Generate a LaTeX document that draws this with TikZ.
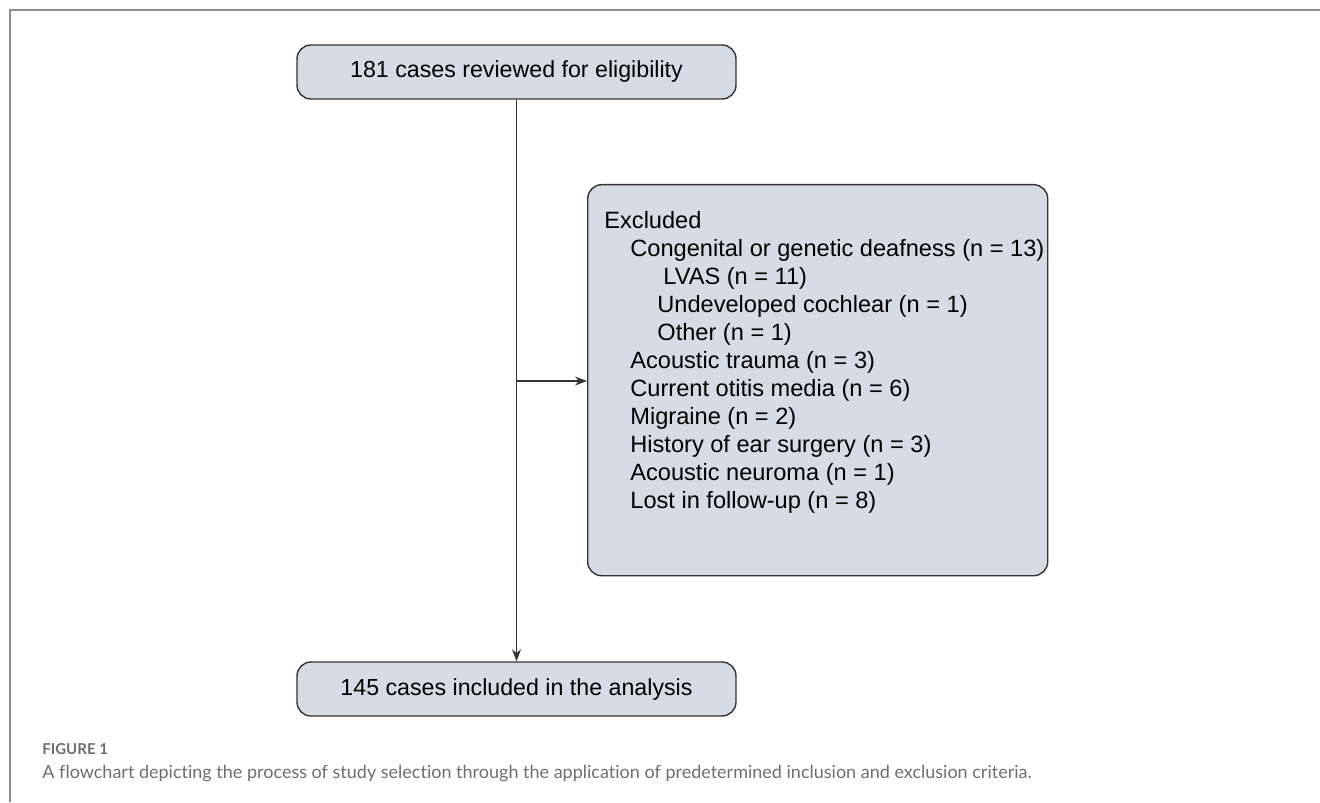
\documentclass[tikz,border=0pt]{standalone}
\usepackage{fontspec}
\setmainfont{Liberation Sans}
\newfontfamily\captionfont[Ligatures=NoCommon]{Lato}
\usetikzlibrary{arrows.meta}
\definecolor{boxfill}{RGB}{214,220,229}
\definecolor{boxline}{RGB}{51,51,51}
\definecolor{framegray}{RGB}{140,140,140}
\definecolor{captiongray}{RGB}{110,110,110}

\begin{document}
\begin{tikzpicture}[x=0.5pt,y=-0.5pt,
    stage/.style={draw=boxline,fill=boxfill,line width=0.7pt,rounded corners=7pt,
      minimum width=219.5pt,minimum height=27pt,inner sep=0pt,font=\fontsize{11.6}{14}\selectfont},
    flow/.style={line width=0.7pt,draw=boxline,-{Stealth[length=6pt,width=4.5pt]}}]
    \useasboundingbox (0,0) rectangle (1320,802);
    \draw[framegray,line width=1.2pt] (10,802) -- (10,10) -- (1320,10);

    \node[stage] (reviewed) at (516.5,72) {181 cases reviewed for eligibility};
    \node[stage] (included) at (516.5,689) {145 cases included in the analysis};
    \node[stage,anchor=north west,minimum width=230pt,minimum height=195.5pt] (excluded) at (587,184) {};
    \node[anchor=north west,align=left,inner sep=0pt,font=\fontsize{11.8}{14}\selectfont] (reasons) at (604,211)
        {Excluded\\
         \hspace*{13pt}Congenital or genetic deafness (n = 13)\\
         \hspace*{29.5pt}LVAS (n = 11)\\
         \hspace*{26.5pt}Undeveloped cochlear (n = 1)\\
         \hspace*{26.5pt}Other (n = 1)\\
         \hspace*{13pt}Acoustic trauma (n = 3)\\
         \hspace*{13pt}Current otitis media (n = 6)\\
         \hspace*{13pt}Migraine (n = 2)\\
         \hspace*{13pt}History of ear surgery (n = 3)\\
         \hspace*{13pt}Acoustic neuroma (n = 1)\\
         \hspace*{13pt}Lost in follow-up (n = 8)};

    \coordinate (split) at (516.5,381);
    \draw[flow] (reviewed) -- (included);
    \draw[flow] (split) -- (split -| excluded.west);

    \node[anchor=base west,inner sep=0pt,text=captiongray,font=\captionfont\bfseries\fontsize{7.5}{9}\selectfont] (figlabel) at (42,754) {FIGURE 1};
    \node[anchor=base west,inner sep=0pt,text=captiongray,font=\captionfont\fontsize{9}{11}\selectfont] (figcaption) at (42,778)
        {A flowchart depicting the process of study selection through the application of predetermined inclusion and exclusion criteria.};
\end{tikzpicture}
\end{document}
